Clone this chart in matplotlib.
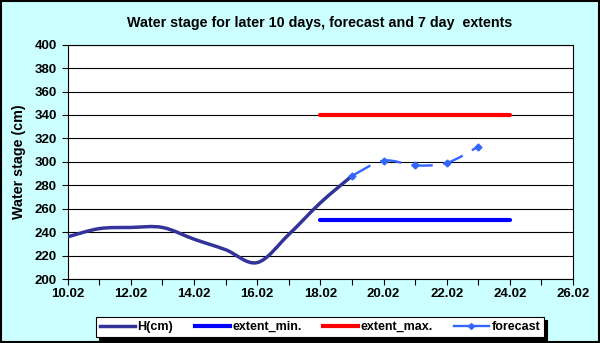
import numpy as np
import matplotlib
matplotlib.use("Agg")
import matplotlib.pyplot as plt
from matplotlib.path import Path
from matplotlib.patches import PathPatch, Rectangle
from matplotlib.lines import Line2D

# --- data (day of February) ---
days = [10, 11, 12, 13, 14, 15, 16, 17, 18, 19]
stage = [236, 243, 244, 244, 234, 225, 214, 238, 265, 288]
fc_days = [19, 20, 21, 22, 23]
fc_stage = [288, 301, 297, 299, 313]
ext_days = [18, 24]
ext_min = [250, 250]
ext_max = [340, 340]
xticks = list(range(10, 27, 2))
xlabels = [f"{d}.02" for d in xticks]

NAVY = "#333399"
BLUE = "#0000ff"
RED = "#ff0000"
FC = "#3366ff"
BG = "#ccffff"

plt.rcParams.update({
    "font.family": ["Liberation Sans", "DejaVu Sans"],
    "font.weight": "bold",
    "font.size": 9.5,
})


def smooth_path(x, y):
    # Excel-style smoothed line: Catmull-Rom segments as cubic Beziers
    pts = np.column_stack([x, y]).astype(float)
    n = len(pts)
    verts = [pts[0]]
    codes = [Path.MOVETO]
    for i in range(n - 1):
        p0 = pts[i - 1] if i > 0 else pts[i]
        p1, p2 = pts[i], pts[i + 1]
        p3 = pts[i + 2] if i + 2 < n else pts[i + 1]
        verts += [p1 + (p2 - p0) / 6, p2 - (p3 - p1) / 6, p2]
        codes += [Path.CURVE4] * 3
    return Path(verts, codes)


fig = plt.figure(figsize=(6, 3.43), dpi=100, facecolor=BG)
ax = fig.add_axes([67.7 / 600, 1 - 279 / 343, (573 - 67.7) / 600, (279 - 44.7) / 343])
ax.set_facecolor("white")

ax.set_xlim(10, 26)
ax.set_ylim(200, 400)
ax.set_yticks(range(200, 401, 20))
ax.set_xticks(xticks)
ax.set_xticklabels(xlabels)
ax.set_xticks(range(10, 27), minor=True)
ax.grid(axis="y", color="black", linewidth=0.8)
ax.set_axisbelow(True)
for s in ax.spines.values():
    s.set_color("black")
    s.set_linewidth(0.8)
ax.tick_params(axis="both", which="both", direction="out", color="black", width=0.8, length=4)
ax.tick_params(axis="x", which="major", pad=2.5)
ax.tick_params(axis="y", pad=4)

# observed stage, smoothed
ax.add_patch(PathPatch(smooth_path(days, stage), fill=False, edgecolor=NAVY,
                       linewidth=2.5, capstyle="round", zorder=4))
# extents
ax.plot(ext_days, ext_min, color=BLUE, linewidth=3, solid_capstyle="round", zorder=3)
ax.plot(ext_days, ext_max, color=RED, linewidth=3, solid_capstyle="round", zorder=3)
# forecast, dashed smoothed with markers
ax.add_patch(PathPatch(smooth_path(fc_days, fc_stage), fill=False, edgecolor=FC,
                       linewidth=1.7, linestyle=(0, (9, 4.5)), zorder=5))
ax.plot(fc_days, fc_stage, linestyle="none", marker="D", markersize=3.5,
        color=FC, zorder=6)

ax.set_ylabel("Water stage (cm)", fontsize=10.3, fontweight="bold", labelpad=6)
fig.text(320 / 600, 1 - 27.5 / 343, "Water stage for later 10 days, forecast and 7 day  extents",
         ha="center", va="baseline", fontsize=10.3, fontweight="bold")

handles = [
    Line2D([], [], color=NAVY, linewidth=2.5),
    Line2D([], [], color=BLUE, linewidth=3),
    Line2D([], [], color=RED, linewidth=3),
    Line2D([], [], color=FC, linewidth=1.7, marker="D", markersize=3),
]
labels = ["H(cm)", "extent_min.", "extent_max.", "forecast"]
leg = fig.legend(handles, labels, loc="center", ncol=4, mode="expand",
                 bbox_to_anchor=(90 / 600, 1 - 339 / 343, 460 / 600, 24 / 343),
                 fancybox=False, framealpha=1, edgecolor="black",
                 shadow={"color": "black", "alpha": 1},
                 handlelength=2.8, handletextpad=0.2, borderpad=0.3,
                 prop={"weight": "bold", "size": 9})
leg.get_frame().set_linewidth(0.8)

# figure border
fig.patches.append(Rectangle((0.002, 0.003), 0.996, 0.994, transform=fig.transFigure,
                             fill=False, edgecolor="black", linewidth=1.5))

fig.savefig("out.png", dpi=100, facecolor=BG)
